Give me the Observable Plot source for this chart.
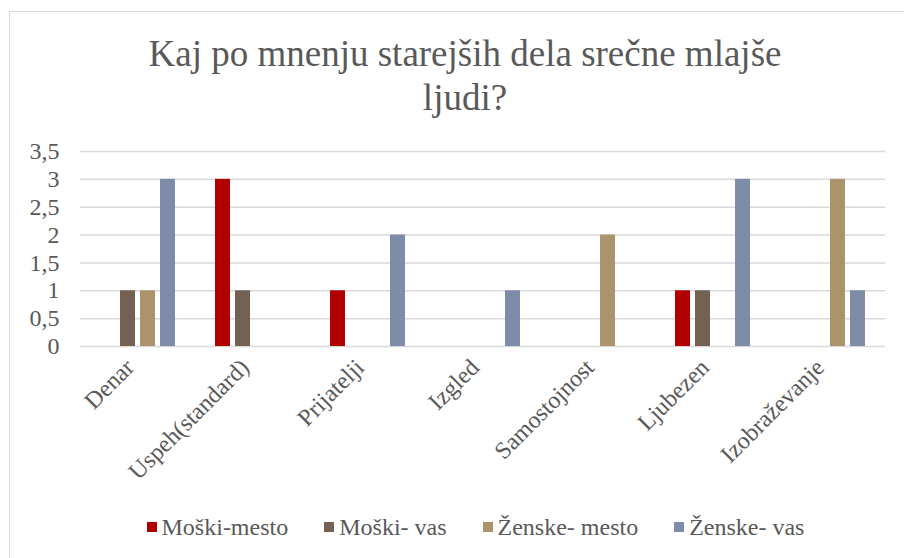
<!DOCTYPE html>
<html>
<head>
<meta charset="utf-8">
<script src="https://cdn.jsdelivr.net/npm/d3@7"></script>
<script src="https://cdn.jsdelivr.net/npm/@observablehq/plot@0.6"></script>
<style>
  html, body { margin: 0; padding: 0; background: #fff; }
  #wrap { position: relative; width: 904px; height: 558px; overflow: hidden; font-family: "Liberation Serif", Tinos, "Times New Roman", Times, "Nimbus Roman", "Nimbus Roman No9 L", "Noto Serif", FreeSerif, "DejaVu Serif", serif; color: #595959; }
  #border { position: absolute; left: 9px; top: 11px; width: 1000px; height: 1000px; border: 1.5px solid #d9d9d9; box-sizing: border-box; }
  #title { position: absolute; left: 0; width: 930px; top: 32px; text-align: center; font-size: 37px; line-height: 44px; color: #595959; }
  #chart { position: absolute; left: 0; top: 120px; }
  #legend { position: absolute; left: 0; width: 951px; top: 513px; display: flex; justify-content: center; gap: 36px; font-size: 24px; line-height: 28px; color: #595959; white-space: nowrap; }
  #legend .item { display: flex; align-items: center; gap: 5px; }
  #legend .sw { width: 10px; height: 10px; display: inline-block; }
</style>
</head>
<body>
<div id="wrap">
  <div id="border"></div>
  <div id="title">Kaj po mnenju starejših dela srečne mlajše<br>ljudi?</div>
  <div id="chart"></div>
  <div id="legend"></div>
</div>
<script>
const categories = ["Denar", "Uspeh(standard)", "Prijatelji", "Izgled", "Samostojnost", "Ljubezen", "Izobraževanje"];
const series = ["Moški-mesto", "Moški- vas", "Ženske- mesto", "Ženske- vas"];
const moskiMesto  = [0, 3, 1, 0, 0, 1, 0];
const moskiVas    = [1, 1, 0, 0, 0, 1, 0];
const zenskeMesto = [1, 0, 0, 0, 2, 0, 3];
const zenskeVas   = [3, 0, 2, 1, 0, 3, 1];
const colors = ["#B00000", "#736154", "#AB936C", "#7F8CA9"];
const yTicks = [0, 0.5, 1, 1.5, 2, 2.5, 3, 3.5];

const valuesBySeries = [moskiMesto, moskiVas, zenskeMesto, zenskeVas];
const data = [];
categories.forEach((c, i) => {
  series.forEach((s, j) => {
    data.push({category: c, series: s, value: valuesBySeries[j][i]});
  });
});

const fmt = d => String(d).replace(".", ",");
const serif = "'Liberation Serif', Tinos, 'Times New Roman', Times, 'Nimbus Roman', 'Nimbus Roman No9 L', 'Noto Serif', FreeSerif, 'DejaVu Serif', serif";

const chart = Plot.plot({
  width: 904,
  height: 380,
  marginLeft: 78,
  marginRight: 17,
  marginTop: 31,
  marginBottom: 154,
  style: {fontFamily: serif, color: "#595959", background: "transparent"},
  fx: {domain: categories, padding: 0, label: null},
  x: {domain: series, paddingInner: 0.24, paddingOuter: 0.87, axis: null},
  y: {domain: [0, 3.5], axis: null},
  color: {domain: series, range: colors},
  marks: [
    Plot.ruleY(yTicks, {stroke: "#d9d9d9", strokeWidth: 1.5}),
    Plot.axisY({ticks: yTicks, tickFormat: fmt, tickSize: 0, tickPadding: 21, fontSize: 24, fill: "#595959", label: null}),
    Plot.axisFx({anchor: "bottom", tickRotate: -45, tickSize: 0, tickPadding: 17, dx: -8, fontSize: 24, fill: "#595959", label: null}),
    Plot.barY(data, {fx: "category", x: "series", y: "value", fill: "series"})
  ]
});
document.getElementById("chart").appendChild(chart);

const legend = document.getElementById("legend");
series.forEach((s, j) => {
  const it = document.createElement("div");
  it.className = "item";
  const sw = document.createElement("span");
  sw.className = "sw";
  sw.style.background = colors[j];
  const tx = document.createElement("span");
  tx.textContent = s;
  it.appendChild(sw);
  it.appendChild(tx);
  legend.appendChild(it);
});
</script>
</body>
</html>
